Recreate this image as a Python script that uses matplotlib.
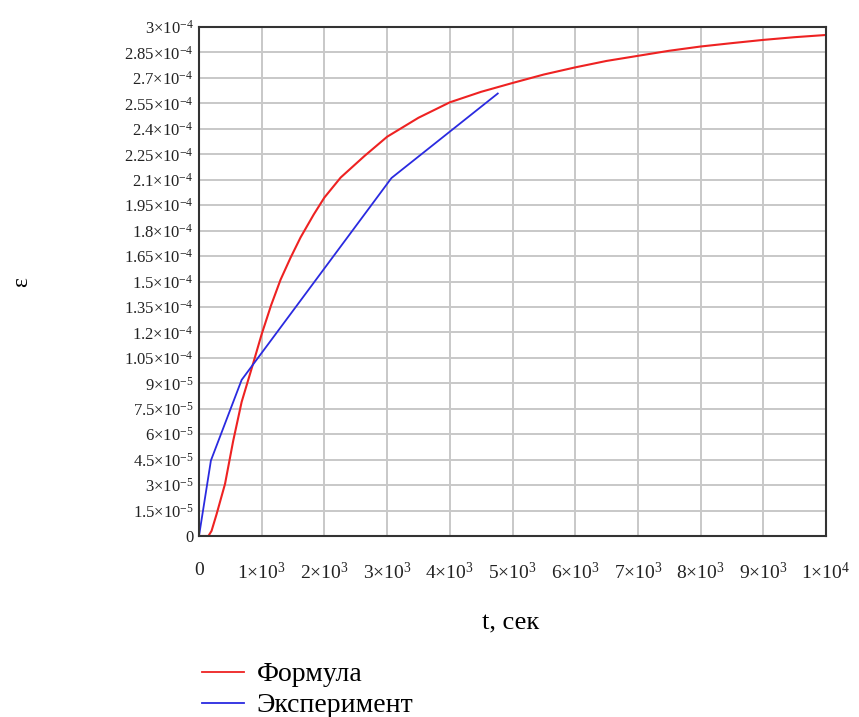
import matplotlib
matplotlib.use("Agg")
import matplotlib.pyplot as plt
from matplotlib.lines import Line2D

plt.rcParams["font.family"] = ["Liberation Serif", "DejaVu Serif"]
plt.rcParams["mathtext.fontset"] = "custom"
plt.rcParams["mathtext.rm"] = "Liberation Serif"
plt.rcParams["mathtext.it"] = "Liberation Serif:italic"

# Формула
t_formula = [0, 150, 200, 280, 415, 545, 680, 850, 1000, 1150, 1300, 1460, 1620,
             1830, 2000, 2260, 2640, 3000, 3500, 4000, 4500, 5000, 5500, 6000,
             6500, 7000, 7500, 8000, 8500, 9000, 9500, 10000]
eps_formula = [0, 0, 0.3e-5, 1.28e-5, 3.07e-5, 5.6e-5, 7.9e-5, 1.0e-4, 1.19e-4,
               1.36e-4, 1.51e-4, 1.64e-4, 1.76e-4, 1.895e-4, 1.995e-4, 2.113e-4,
               2.24e-4, 2.353e-4, 2.465e-4, 2.556e-4, 2.618e-4, 2.67e-4, 2.72e-4,
               2.762e-4, 2.80e-4, 2.83e-4, 2.86e-4, 2.885e-4, 2.905e-4, 2.924e-4,
               2.94e-4, 2.953e-4]

# Эксперимент
t_exp = [0, 190, 680, 3070, 4765]
eps_exp = [0, 4.45e-5, 9.2e-5, 2.11e-4, 2.608e-4]

x_ticks = [0, 1000, 2000, 3000, 4000, 5000, 6000, 7000, 8000, 9000, 10000]
x_tick_labels = ["0", "1×10$^{3}$", "2×10$^{3}$", "3×10$^{3}$", "4×10$^{3}$", "5×10$^{3}$",
                 "6×10$^{3}$", "7×10$^{3}$", "8×10$^{3}$", "9×10$^{3}$", "1×10$^{4}$"]

y_mant = ["0", "1.5", "3", "4.5", "6", "7.5", "9", "1.05", "1.2", "1.35", "1.5",
          "1.65", "1.8", "1.95", "2.1", "2.25", "2.4", "2.55", "2.7", "2.85", "3"]
y_exp = [None, -5, -5, -5, -5, -5, -5, -4, -4, -4, -4,
         -4, -4, -4, -4, -4, -4, -4, -4, -4, -4]

y_ticks = [i * 1.5e-5 for i in range(len(y_mant))]
y_tick_labels = []
for m, e in zip(y_mant, y_exp):
    if e is None:
        y_tick_labels.append(m)
    else:
        y_tick_labels.append(m + "×10$^{-" + str(-e) + "}$")

red = "#ee2222"
blue = "#2a2ae0"

fig = plt.figure(figsize=(8.59, 7.17), dpi=100)
ax = fig.add_axes([199 / 859, 1 - 536 / 717, 627 / 859, 509 / 717])

ax.plot(t_formula, eps_formula, color=red, lw=1.5, label="Формула")
ax.plot(t_exp, eps_exp, color=blue, lw=1.3, label="Эксперимент")

ax.set_xlim(0, 10000)
ax.set_ylim(0, 3e-4)
ax.set_xticks(x_ticks)
ax.set_xticklabels(x_tick_labels, fontsize=14)
ax.set_yticks(y_ticks)
ax.set_yticklabels(y_tick_labels, fontsize=12)
ax.tick_params(length=0, pad=4, colors="#222222")
ax.tick_params(axis="x", pad=19)
ax.grid(True, color="#c8c8c8", lw=1.4)
ax.set_axisbelow(True)
for s in ax.spines.values():
    s.set_color("#333333")
    s.set_linewidth(1.5)

fig.text(511 / 859, 1 - 623 / 717, "t, сек", fontsize=19, ha="center", va="center")
fig.text(22 / 859, 1 - 282 / 717, "ε", fontsize=17, ha="center", va="center", rotation=90)

handles = [Line2D([], [], color=red, lw=1.3), Line2D([], [], color=blue, lw=1.3)]
fig.legend(handles, ["Формула", "Эксперимент"], loc="upper left",
           bbox_to_anchor=(202 / 859, 1 - 662 / 717), frameon=False, fontsize=20,
           borderpad=0, borderaxespad=0, handlelength=1.5, handletextpad=0.47,
           labelspacing=0.2)

fig.savefig("out.png", dpi=100)
